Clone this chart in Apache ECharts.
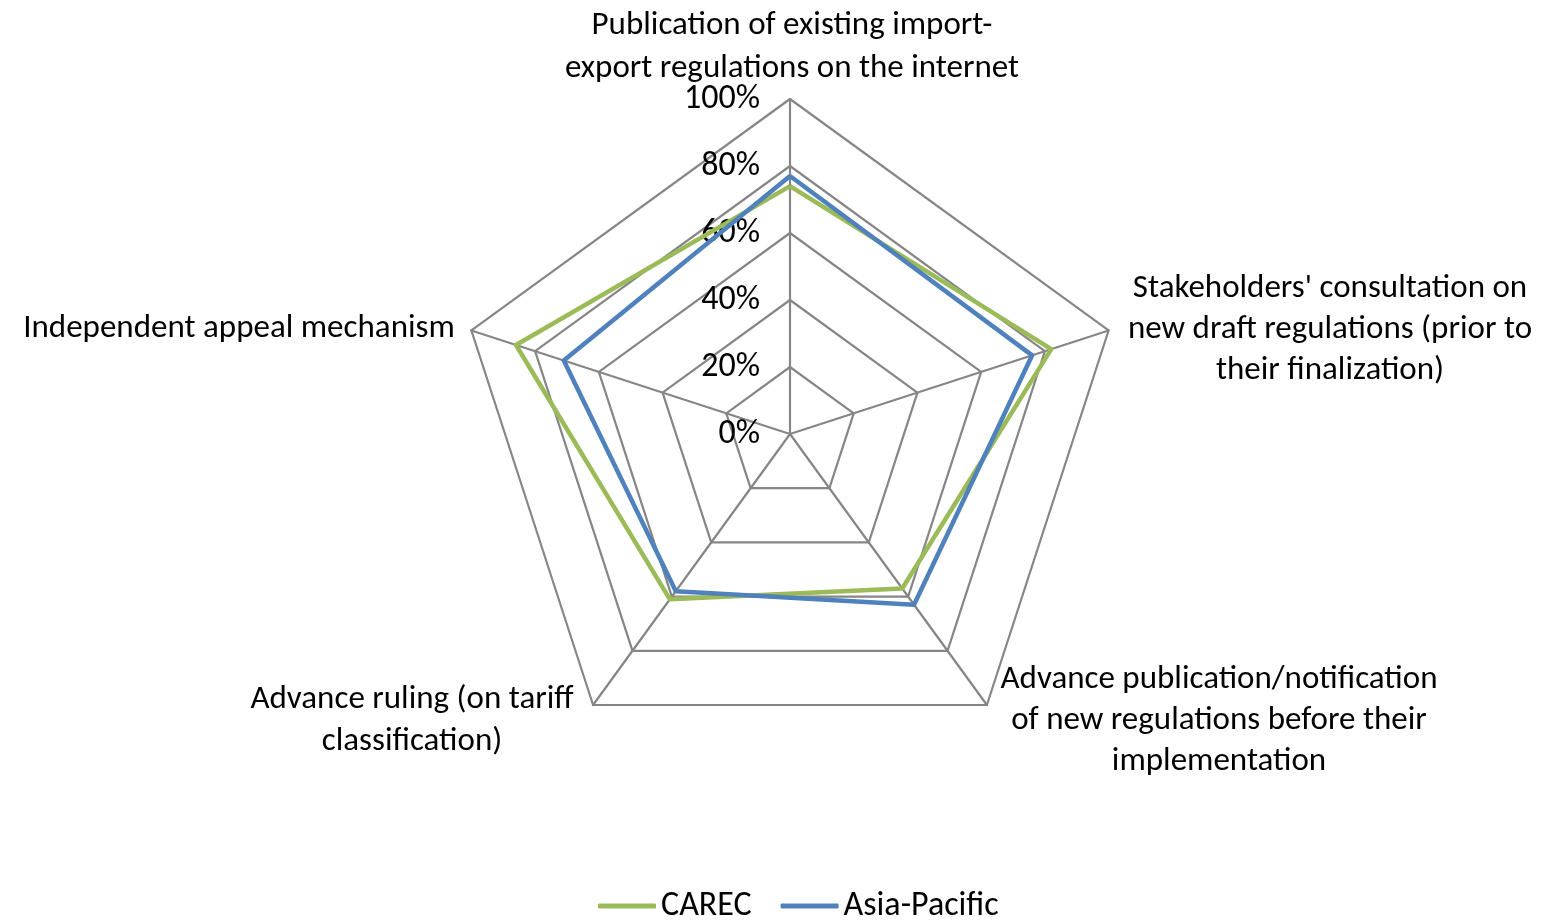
<!DOCTYPE html>
<html>
<head>
<meta charset="utf-8">
<script src="https://cdn.jsdelivr.net/npm/echarts@6/dist/echarts.min.js"></script>
<style>
html,body{margin:0;padding:0;background:#fff;}
#chart{width:1548px;height:921px;}
</style>
</head>
<body>
<div id="chart"></div>
<script>
// Indicators in ECharts order (counter-clockwise from the top)
const categories = [
  "Publication of existing import-\nexport regulations on the internet",
  "Independent appeal mechanism",
  "Advance ruling (on tariff\nclassification)",
  "Advance publication/notification\nof new regulations before their\nimplementation",
  "Stakeholders' consultation on\nnew draft regulations (prior to\ntheir finalization)"
];
const seriesNames = ["CAREC", "Asia-Pacific"];
const carecValues = [74, 86, 61, 57, 82];
const asiaPacificValues = [77, 71, 58, 63, 76];
const tickLabels = ["0%", "20%", "40%", "60%", "80%", "100%"];

const FONT = "Carlito, Lato, 'Open Sans', sans-serif";
const GRAY = "#868686";
const GREEN = "#9BBB59";
const BLUE = "#4F81BD";

const chart = echarts.init(document.getElementById('chart'));

// label placement for axis names (layout only)
const namePos = [
  {x: 792, y: 47, lh: 43},
  {x: 239, y: 329, lh: 41},
  {x: 412, y: 721, lh: 42},
  {x: 1219, y: 721, lh: 41},
  {x: 1330, y: 330, lh: 41}
];

const option = {
  backgroundColor: '#fff',
  animation: false,
  textStyle: {fontFamily: FONT},
  legend: {
    data: seriesNames,
    bottom: -7,
    left: 593,
    icon: 'roundRect',
    itemWidth: 58,
    itemHeight: 5,
    itemGap: 29,
    textStyle: {fontSize: 34, color: '#000', fontFamily: FONT}
  },
  radar: {
    center: [790, 434],
    radius: 335,
    startAngle: 90,
    shape: 'polygon',
    splitNumber: 5,
    axisName: {show: false},
    axisLine: {lineStyle: {color: GRAY, width: 2.2}},
    splitLine: {lineStyle: {color: GRAY, width: 2.2}},
    splitArea: {show: false},
    axisTick: {show: false},
    indicator: categories.map((c, i) => ({
      name: c, min: 0, max: 100,
      axisLabel: i === 0 ? {
        show: true, fontSize: 34, color: '#000', fontFamily: FONT, margin: 30,
        padding: [4, 0, 0, 0],
        formatter: (v) => tickLabels[Math.round(v / 20)]
      } : {show: false}
    }))
  },
  series: [{
    type: 'radar',
    symbol: 'none',
    data: [
      {name: seriesNames[0], value: carecValues, lineStyle: {color: GREEN, width: 4.5}, itemStyle: {color: GREEN}},
      {name: seriesNames[1], value: asiaPacificValues, lineStyle: {color: BLUE, width: 4.5}, itemStyle: {color: BLUE}}
    ]
  }],
  graphic: categories.map((c, i) => ({
    type: 'text',
    x: namePos[i].x,
    y: namePos[i].y,
    style: {
      text: c,
      fontSize: 33,
      fontFamily: FONT,
      fill: '#000',
      align: 'center',
      verticalAlign: 'middle',
      lineHeight: namePos[i].lh
    }
  }))
};
chart.setOption(option);
</script>
</body>
</html>
